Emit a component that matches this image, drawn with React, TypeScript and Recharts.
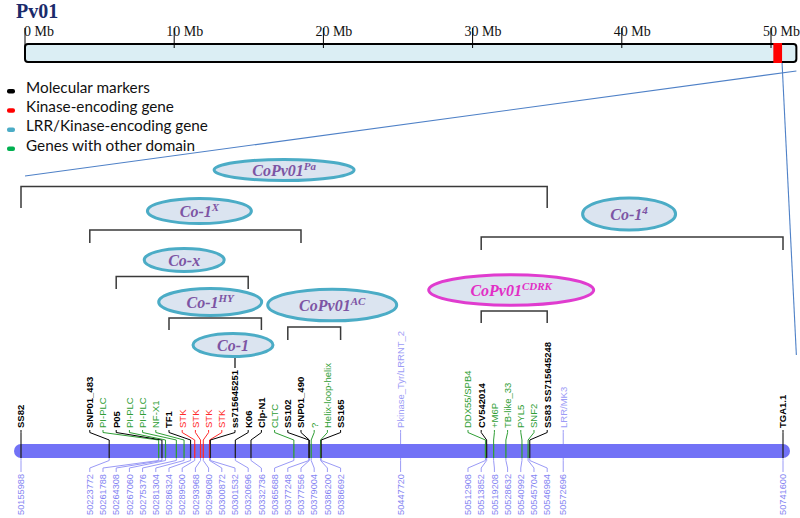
import { ComposedChart, XAxis, YAxis, Line, Scatter, ReferenceArea, Legend } from 'recharts'

// markers / genes in the 50.16–50.74 Mb window of Pv01
const MARKERS = [
  'SS82', 'SNP01_483', 'PI-PLC', 'P05', 'PI-PLC', 'PI-PLC', 'NF-X1', 'TF1', 'STK', 'STK', 'STK', 'STK',
  'ss715645251', 'K06', 'Clp-N1', 'CLTC', 'SS102', 'SNP01_490', '?', 'Helix-loop-helix', 'SS165',
  'Pkinase_Tyr/LRRNT_2', 'DDX55/SPB4', 'CV542014', '+M6P', 'TB-like_33', 'PYL5', 'SNF2',
  'SS83  SS715645248', 'LRR/MK3', 'TGA1.1',
]
const POSITIONS = [
  50155988, 50223772, 50261788, 50264308, 50267060, 50275376, 50281304, 50286324, 50289500, 50293968,
  50296080, 50300872, 50301532, 50320696, 50332736, 50365688, 50377248, 50377556, 50379004, 50386200,
  50386692, 50447720, 50512908, 50513852, 50519208, 50528632, 50540992, 50545704, 50546984, 50572696,
  50741600,
]
const KINDS = [
  'marker', 'marker', 'other', 'marker', 'other', 'other', 'other', 'marker', 'kinase', 'kinase', 'kinase', 'kinase',
  'marker', 'marker', 'marker', 'other', 'marker', 'marker', 'other', 'other', 'marker',
  'lrr', 'other', 'marker', 'other', 'other', 'other', 'other',
  'marker', 'lrr', 'marker',
]

const MB_TICKS = [0, 10, 20, 30, 40, 50]
const CHROMOSOME_MB = 51.7

const LEGEND_LABELS = ['Molecular markers', 'Kinase-encoding gene', 'LRR/Kinase-encoding gene', 'Genes with other domain']
const LEGEND_KINDS = ['marker', 'kinase', 'lrr', 'other']

// resistance loci and the flanking markers of each
const LOCI = ['CoPv01', 'Co-1', 'Co-1', 'Co-x', 'CoPv01', 'Co-1', 'CoPv01', 'Co-1']
const LOCI_SUP = ['Pa', 'X', '4', '', 'CDRK', 'HY', 'AC', '']
const LOCI_FROM = ['SS82', 'SNP01_483', 'CV542014', 'P05', 'CV542014', 'TF1', 'SS102', 'ss715645251']
const LOCI_TO = ['SS83  SS715645248', 'SNP01_490', 'TGA1.1', 'K06', 'SS83  SS715645248', 'Clp-N1', 'SS165', 'ss715645251']
const LOCI_KIND = ['lrr', 'lrr', 'lrr', 'lrr', 'kinase', 'lrr', 'lrr', 'lrr']

// ---- layout (pixels) ----
const W = 800
const H = 518
const MAP_X0 = 21
const MAP_X1 = 783
const START = POSITIONS[0]
const END = POSITIONS[POSITIONS.length - 1]
const BP_PER_PX = (END - START) / (MAP_X1 - MAP_X0)
const BP_DOMAIN = [START - MAP_X0 * BP_PER_PX, START + (W - MAP_X0) * BP_PER_PX]
const MB_ZERO_PX = 25
const PX_PER_MB = 14.92
const MB_DOMAIN = [-MB_ZERO_PX / PX_PER_MB, (W - MB_ZERO_PX) / PX_PER_MB]
const LABEL_GAP = 13.2 * BP_PER_PX

const LOCI_LAYOUT = [
  { bar: 186.5, leg: 208, cy: 170, rx: 70, ry: 10.5, dx: 0 },
  { bar: 230, leg: 243, cy: 211, rx: 52, ry: 12.5, dx: 4 },
  { bar: 237, leg: 250, cy: 214, rx: 46.5, ry: 16, dx: -3 },
  { bar: 276.5, leg: 289, cy: 260, rx: 40, ry: 11.5, dx: 2 },
  { bar: 311, leg: 323, cy: 290, rx: 82.5, ry: 15.3, dx: -3 },
  { bar: 318, leg: 330, cy: 302, rx: 51.5, ry: 13.5, dx: -5 },
  { bar: 327, leg: 340, cy: 305, rx: 64.5, ry: 15.8, dx: 18 },
  { bar: 358, leg: 368, cy: 345, rx: 40, ry: 11.5, dx: -2 },
]

const TEXT_COLOR: Record<string, string> = { marker: '#000000', kinase: '#ff2a2a', lrr: '#9c9cf6', other: '#2f9e35' }
const KEY_COLOR: Record<string, string> = { marker: '#000000', kinase: '#ff0000', lrr: '#4bacc6', other: '#00b050' }
const BAR_COLOR = '#7272f6'
const LINK_COLOR = '#9a9af6'
const ZOOM_COLOR = '#4f81c7'

// push overlapping labels apart, each cluster centred on its span
function spreadLabels(targets: number[], gap: number) {
  type G = { lo: number; hi: number; n: number }
  const groups: G[] = targets.map(t => ({ lo: t, hi: t, n: 1 }))
  const edges = (g: G) => {
    const c = (g.lo + g.hi) / 2
    const half = ((g.n - 1) * gap) / 2
    return [c - half, c + half]
  }
  let i = 0
  while (i < groups.length - 1) {
    const a = edges(groups[i])
    const b = edges(groups[i + 1])
    if (b[0] - a[1] < gap) {
      groups.splice(i, 2, { lo: groups[i].lo, hi: groups[i + 1].hi, n: groups[i].n + groups[i + 1].n })
      i = Math.max(0, i - 1)
    } else i++
  }
  const out: number[] = []
  groups.forEach(g => {
    const [s] = edges(g)
    for (let k = 0; k < g.n; k++) out.push(s + k * gap)
  })
  return out
}

const SLOTS = spreadLabels(POSITIONS, LABEL_GAP)
const slotOf = (name: string) => SLOTS[MARKERS.indexOf(name)]

const topLabels = MARKERS.map((name, i) => ({ x: SLOTS[i], y: 428, name, kind: KINDS[i] }))
const bottomLabels = POSITIONS.map((p, i) => ({ x: SLOTS[i], y: 474, name: String(p) }))
const tickLabels = MB_TICKS.map(t => ({ x: t, y: 36, name: `${t} Mb` }))
const lociPoints = LOCI.map((name, i) => ({
  x: (slotOf(LOCI_FROM[i]) + slotOf(LOCI_TO[i])) / 2,
  y: LOCI_LAYOUT[i].cy,
  name,
  sup: LOCI_SUP[i],
  kind: LOCI_KIND[i],
  ...LOCI_LAYOUT[i],
}))

const FONT = "'Liberation Sans', Arial, sans-serif"
const SERIF = "'Liberation Serif', 'Times New Roman', serif"

function TopLabel(p: any) {
  const kind = p.payload.kind
  return (
    <text x={p.cx} y={p.cy} dy="0.35em" transform={`rotate(-90 ${p.cx} ${p.cy})`}
      fontSize={9.5} fontFamily={FONT} fontWeight={kind === 'marker' ? 'bold' : 'normal'} fill={TEXT_COLOR[kind]}>
      {p.payload.name}
    </text>
  )
}

function BottomLabel(p: any) {
  return (
    <text x={p.cx} y={p.cy} dy="0.35em" textAnchor="end" transform={`rotate(-90 ${p.cx} ${p.cy})`}
      fontSize={9.2} fontFamily={FONT} fill="#8585f2">
      {p.payload.name}
    </text>
  )
}

function TickLabel(p: any) {
  const digits = String(p.payload.x).length
  return (
    <text x={p.cx - 1 - 7 * (digits - 1)} y={p.cy} fontSize={14} fontFamily={SERIF} fill="#111">
      {p.payload.name}
    </text>
  )
}

function LocusBadge(p: any) {
  const d = p.payload
  const cx = p.cx + d.dx
  const kinase = d.kind === 'kinase'
  return (
    <g>
      <ellipse cx={cx} cy={p.cy} rx={d.rx} ry={d.ry} fill="#dbe4f0" stroke={kinase ? '#e03ccf' : '#4bacc6'} strokeWidth={3} />
      <text x={cx} y={p.cy} dy="0.35em" textAnchor="middle" fontFamily={SERIF} fontStyle="italic" fontWeight="bold"
        fontSize={16} fill={kinase ? '#e22ec6' : '#7d55a4'}>
        {d.name}
        {d.sup ? <tspan dy={-6} fontSize={11}>{d.sup}</tspan> : null}
      </text>
    </g>
  )
}

// legend box starts at y=72, first baseline at 93
function KeyLegend() {
  return (
    <svg width={240} height={90} style={{ display: 'block', overflow: 'visible' }}>
      {LEGEND_LABELS.map((label, i) => (
        <g key={label}>
          <rect x={7} y={i * 19.2 + 17} width={8} height={4.5} rx={2} fill={KEY_COLOR[LEGEND_KINDS[i]]} />
          <text x={26} y={i * 19.2 + 21} fontSize={15.3} fontFamily="Lato, 'Liberation Sans', sans-serif" fill="#111">{label}</text>
        </g>
      ))}
    </svg>
  )
}

const lineProps = { dot: false, activeDot: false, isAnimationActive: false, legendType: 'none' as const, type: 'linear' as const }

export default function App() {
  return (
    <div style={{ position: 'absolute', left: 0, top: 0, width: W, height: H, background: '#fff' }}>
      <ComposedChart width={W} height={H} margin={{ top: 0, right: 0, bottom: 0, left: 0 }}>
        <XAxis xAxisId="bp" type="number" dataKey="x" domain={BP_DOMAIN} allowDataOverflow hide />
        <XAxis xAxisId="mb" type="number" dataKey="x" domain={MB_DOMAIN} allowDataOverflow hide />
        <YAxis yAxisId="px" type="number" dataKey="y" domain={[0, H]} reversed allowDataOverflow hide />
        <Legend content={<KeyLegend />} layout="vertical" align="center" verticalAlign="middle"
          wrapperStyle={{ left: 0, top: 72, width: 240, height: 90 }} />

        {/* whole chromosome */}
        <ReferenceArea xAxisId="mb" yAxisId="px" x1={0} x2={CHROMOSOME_MB} y1={44} y2={62} ifOverflow="visible"
          shape={(p: any) => <rect x={p.x} y={p.y} width={p.width} height={p.height} rx={3} fill="#dbeef4" stroke="#000" strokeWidth={2} />} />
        <ReferenceArea xAxisId="mb" yAxisId="px" x1={START / 1e6} x2={END / 1e6} y1={43} y2={63} ifOverflow="visible"
          fill="#ff0000" fillOpacity={1} stroke="none" />
        {MB_TICKS.map(t => (
          <Line key={`t${t}`} xAxisId="mb" yAxisId="px" dataKey="y" data={[{ x: t, y: 28 }, { x: t, y: 48 }]}
            stroke="#000" strokeWidth={1} {...lineProps} />
        ))}
        <Scatter xAxisId="mb" yAxisId="px" data={tickLabels} shape={TickLabel} isAnimationActive={false} legendType="none" />

        {/* zoom guides */}
        <Line xAxisId="mb" yAxisId="px" dataKey="y" data={[{ x: 0, y: 176 }, { x: CHROMOSOME_MB, y: 71 }]}
          stroke={ZOOM_COLOR} strokeWidth={1.1} {...lineProps} />
        <Line xAxisId="mb" yAxisId="px" dataKey="y" data={[{ x: END / 1e6, y: 63 }, { x: CHROMOSOME_MB, y: 355 }]}
          stroke={ZOOM_COLOR} strokeWidth={1.1} {...lineProps} />

        {/* locus brackets */}
        {lociPoints.map((d, i) => {
          const a = slotOf(LOCI_FROM[i])
          const b = slotOf(LOCI_TO[i])
          const pts = a === b
            ? [{ x: a, y: d.bar }, { x: a, y: d.leg }]
            : [{ x: a, y: d.leg }, { x: a, y: d.bar }, { x: b, y: d.bar }, { x: b, y: d.leg }]
          return <Line key={`b${i}`} xAxisId="bp" yAxisId="px" dataKey="y" data={pts} stroke="#3a3a3a" strokeWidth={1.5} {...lineProps} />
        })}
        <Scatter xAxisId="bp" yAxisId="px" data={lociPoints} shape={LocusBadge} isAnimationActive={false} legendType="none" />

        {/* zoomed map */}
        <Line xAxisId="bp" yAxisId="px" dataKey="y" data={[{ x: START, y: 451 }, { x: END, y: 451 }]}
          stroke={BAR_COLOR} strokeWidth={14} strokeLinecap="round" {...lineProps} />
        {POSITIONS.map((p, i) => (
          <Line key={`u${i}`} xAxisId="bp" yAxisId="px" dataKey="y"
            data={[{ x: SLOTS[i], y: 430 }, { x: SLOTS[i], y: 432.5 }, { x: p, y: 440 }, { x: p, y: 444 }]}
            stroke={TEXT_COLOR[KINDS[i]]} strokeWidth={1} {...lineProps} />
        ))}
        {POSITIONS.map((p, i) => KINDS[i] === 'lrr' ? null : (
          <Line key={`m${i}`} xAxisId="bp" yAxisId="px" dataKey="y"
            data={[{ x: p, y: 444 }, { x: p, y: 458 }]}
            stroke={KINDS[i] === 'marker' ? '#222' : TEXT_COLOR[KINDS[i]]} strokeWidth={1.3} {...lineProps} />
        ))}
        {POSITIONS.map((p, i) => (
          <Line key={`d${i}`} xAxisId="bp" yAxisId="px" dataKey="y"
            data={[{ x: p, y: 458 }, { x: p, y: 460.5 }, { x: SLOTS[i], y: 468 }, { x: SLOTS[i], y: 472 }]}
            stroke={LINK_COLOR} strokeWidth={1} {...lineProps} />
        ))}
        <Scatter xAxisId="bp" yAxisId="px" data={topLabels} shape={TopLabel} isAnimationActive={false} legendType="none" />
        <Scatter xAxisId="bp" yAxisId="px" data={bottomLabels} shape={BottomLabel} isAnimationActive={false} legendType="none" />
      </ComposedChart>
      <div style={{ position: 'absolute', left: 16, top: 0, lineHeight: '20px', font: `bold 20px ${SERIF}`, color: '#1b2b6b' }}>
        Pv01
      </div>
    </div>
  )
}
